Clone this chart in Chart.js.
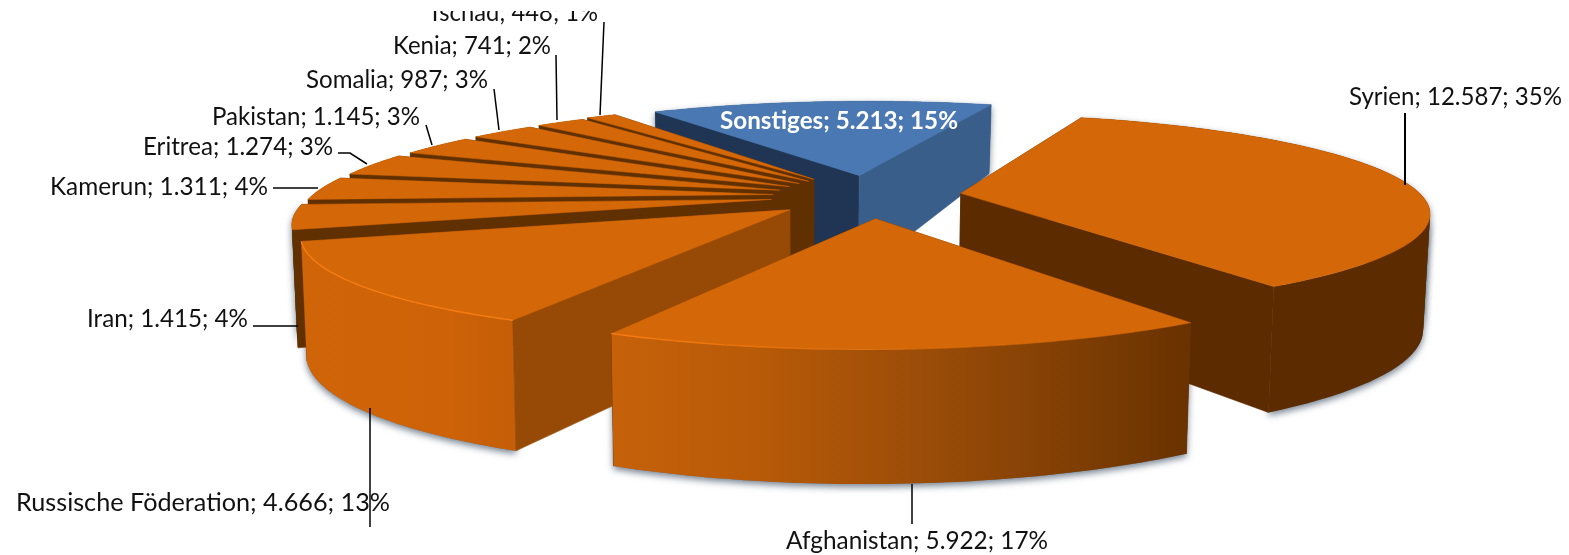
<!DOCTYPE html>
<html><head><meta charset="utf-8"><style>html,body{margin:0;padding:0;background:#fff}canvas{display:block}</style>
<script src="https://cdn.jsdelivr.net/npm/chart.js@4"></script></head>
<body><canvas id="c" width="1569" height="555"></canvas>
<script>
const categories=["Syrien","Afghanistan","Russische Föderation","Iran","Kamerun","Eritrea","Pakistan","Somalia","Kenia","Tschad","Sonstiges"];
const values=[12587,5922,4666,1415,1311,1274,1145,987,741,448,5213];
const valueLabels=["12.587","5.922","4.666","1.415","1.311","1.274","1.145","987","741","448","5.213"];
const percents=[35,17,13,4,4,3,3,3,2,1,15];
const explode=[92.17,106.45,100.86,98.68,96.98,95.76,94.43,95.08,96.34,101.62,102.77];
const topColors=["#d46707","#d46707","#d46707","#d46707","#d46707","#d46707","#d46707","#d46707","#d46707","#d46707","#4a78b2"];
const cutColors=["#5c2b00","#6a3200","#964a05","#613000","#613000","#613000","#613000","#613000","#613000","#613000",null];
const wallStops=[
 [[0,"#5c2b00"],[1,"#5c2b00"]],
 [[0,"#c6610a"],[.25,"#b85a08"],[.55,"#9a4c08"],[.8,"#7f3e04"],[1,"#693200"]],
 [[0,"#d06408"],[.7,"#cd6208"],[1,"#c55e07"]],
 [[0,"#613000"],[1,"#613000"]],[[0,"#613000"],[1,"#613000"]],[[0,"#613000"],[1,"#613000"]],[[0,"#613000"],[1,"#613000"]],[[0,"#613000"],[1,"#613000"]],[[0,"#613000"],[1,"#613000"]],[[0,"#613000"],[1,"#613000"]],
 [[0,"#3a5e8a"],[1,"#3a5e8a"]]];
// label placement: left x, baseline y, width
const labelPos=[[1349,105,213],[786,549,262],[16,511,374],[87,327,161],[50,195,218],[143,155,190],[212,125,208],[306,88,182],[393,54,158],[428,21,170],[720,129,238]];
const leaders=[[[1405,113],[1405,185]],[[912,484],[912,524]],[[370,408],[370,527]],[[253,326],[298,326]],[[273,188],[318,188]],[[338,153],[350,153],[367,164]],[[426,125],[432,145]],[[494,89],[499,130]],[[556,55],[557,120]],[[604,22],[600,115]]];
const drawOrder=[10,9,8,7,6,5,4,3,0,2,1];
const VIEW={x0:869.63,y0:195.81,vx:913.8,hy:-304.15,dist:2414.13};
const FONT='"Lato", sans-serif';

function project(X,Y){const w=1-Y/VIEW.dist;return [VIEW.vx+(VIEW.x0-VIEW.vx+X)/w,VIEW.hy+(VIEW.y0-VIEW.hy)/w];}
function depthAt(y){return y<215?70+(y-107)*.426:116+(y-215)*.139;}
function drop(p){return [p[0]+(800-p[0])*.011,p[1]+depthAt(p[1])];}
function trace(ctx,pts){ctx.beginPath();pts.forEach((p,i)=>i?ctx.lineTo(p[0],p[1]):ctx.moveTo(p[0],p[1]));ctx.closePath();}
function sliceGeom(el){
 const b=(el.startAngle+el.endAngle)/2,o=el.options.offset||0,r=el.outerRadius;
 const ox=o*Math.cos(b),oy=o*Math.sin(b);
 const rim=[];const n=64;
 for(let k=0;k<=n;k++){const a=el.startAngle+(el.endAngle-el.startAngle)*k/n;rim.push(project(ox+r*Math.cos(a),oy+r*Math.sin(a)));}
 return {apex:project(ox,oy),rim,mid:project(ox+r*.5*Math.cos(b),oy+r*.5*Math.sin(b))};
}
function front(g,p){const t=(g.mid[0]-g.apex[0])/(p[0]-g.apex[0]);return g.mid[1]<g.apex[1]+t*(p[1]-g.apex[1]);}
// the rim wall, cut where the rim turns back in x, so that each piece is a simple outline
function wallPieces(g){
 const out=[];let cur=[g.rim[0]],dir=0;
 for(let k=1;k<g.rim.length;k++){
  const d=Math.sign(g.rim[k][0]-g.rim[k-1][0]);
  if(dir&&d&&d!==dir){out.push(cur);cur=[g.rim[k-1]];}
  if(d)dir=d;cur.push(g.rim[k]);
 }
 out.push(cur);
 return out.map(r=>r.concat(r.map(drop).reverse()));
}
function cutPoly(g,p){return [g.apex,p,drop(p),drop(g.apex)];}
function wallFill(ctx,g,i){
 const xs=g.rim.map(p=>p[0]),a=Math.min(...xs),b=Math.max(...xs),gr=ctx.createLinearGradient(a,0,b,0);
 wallStops[i].forEach(s=>gr.addColorStop(s[0],s[1]));return gr;
}
const pie3d={id:'pie3d',
 beforeDatasetsDraw(chart){
  const ctx=chart.ctx,els=chart.getDatasetMeta(0).data,G=els.map(sliceGeom);
  ctx.save();ctx.shadowColor='rgba(70,85,105,.75)';ctx.shadowBlur=7;ctx.shadowOffsetY=3;ctx.fillStyle='#777';
  [10,3,0,2,1].forEach(i=>{wallPieces(G[i]).forEach(w=>{trace(ctx,w);ctx.fill();});});
  ctx.restore();
  drawOrder.forEach(i=>{
   const g=G[i],s=g.rim[0],e=g.rim[g.rim.length-1];
   const fs=front(g,s),fe=front(g,e);
   const cut=(p)=>{
    trace(ctx,cutPoly(g,p));
    if(i===10) ctx.fillStyle=p===s?"#1f3553":"#3a5e8a"; else ctx.fillStyle=cutColors[i];
    ctx.fill();ctx.strokeStyle=ctx.fillStyle;ctx.lineWidth=.6;ctx.stroke();};
   if(!fs)cut(s); if(!fe)cut(e);
   ctx.fillStyle=wallFill(ctx,g,i);
   wallPieces(g).forEach(w=>{trace(ctx,w);ctx.fill();});
   if(fs)cut(s); if(fe)cut(e);
   trace(ctx,[g.apex].concat(g.rim));ctx.fillStyle=els[i].options.backgroundColor;ctx.fill();
   ctx.strokeStyle=ctx.fillStyle;ctx.lineWidth=.5;ctx.stroke();
   if(i===1||i===2){
    const xs=g.rim.map(p=>p[0]),a=Math.min(...xs),b=Math.max(...xs),gr=ctx.createLinearGradient(a,0,b,0);
    gr.addColorStop(0,'#f77c12');gr.addColorStop(i===1?.55:1,i===1?'rgba(247,124,18,.25)':'#f77c12');if(i===1)gr.addColorStop(1,'rgba(247,124,18,0)');
    ctx.beginPath();g.rim.forEach((p,k)=>k?ctx.lineTo(p[0],p[1]):ctx.moveTo(p[0],p[1]));
    ctx.strokeStyle=gr;ctx.lineWidth=1.4;ctx.stroke();
   }
  });
  return false;
 },
 afterDraw(chart){
  const ctx=chart.ctx;ctx.save();
  ctx.strokeStyle='#000';
  leaders.forEach((l,i)=>{ctx.beginPath();l.forEach((p,k)=>k?ctx.lineTo(p[0],p[1]):ctx.moveTo(p[0],p[1]));ctx.lineWidth=i===0?2:1.5;ctx.stroke();});
  ctx.beginPath();ctx.rect(0,11,1569,544);ctx.clip();
  ctx.textBaseline='alphabetic';ctx.textAlign='left';
  categories.forEach((c,i)=>{
   const t=c+'; '+valueLabels[i]+'; '+percents[i]+'%';
   ctx.font=(i===10?'bold ':'')+'25.5px '+FONT;ctx.fillStyle=i===10?'#fff':'#111';
   ctx.fillText(t,labelPos[i][0],labelPos[i][1],labelPos[i][2]);
  });
  ctx.restore();
 }
};
new Chart(document.getElementById('c'),{
 type:'pie',
 data:{labels:categories,datasets:[{data:values,backgroundColor:topColors,offset:explode,borderWidth:0}]},
 options:{responsive:false,animation:false,rotation:19.17,radius:461.16,events:[],layout:{padding:0},
  plugins:{legend:{display:false},tooltip:{enabled:false}}},
 plugins:[pie3d]
});
</script></body></html>
